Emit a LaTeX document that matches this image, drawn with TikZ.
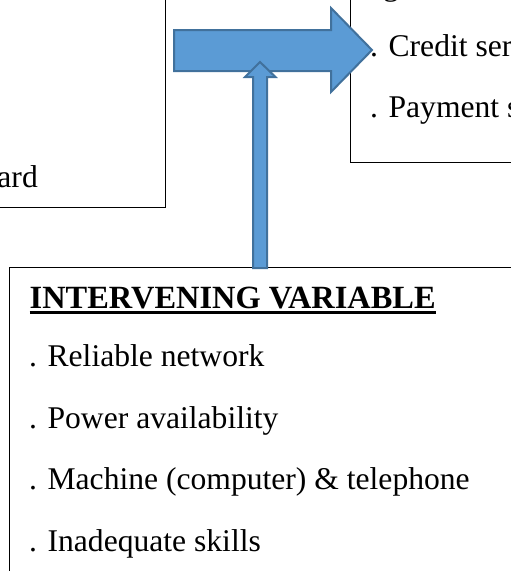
\documentclass[tikz,border=0pt]{standalone}
\usepackage{fontspec}
\setmainfont{Liberation Serif}
\definecolor{arrowfill}{HTML}{5B9BD5}
\definecolor{arrowline}{HTML}{41719C}
\begin{document}
\begin{tikzpicture}[x=1pt,y=-1pt,
  box/.style={draw=black,line width=0.9pt},
  txt/.style={anchor=base west,inner sep=0pt,font=\fontsize{31.6}{38}\selectfont},
  blockarrow/.style={fill=arrowfill,draw=arrowline,line width=2pt,line join=miter}]
\useasboundingbox (0,0) rectangle (511,571);
\begin{scope}
\clip (0,0) rectangle (511,571);
% boxes
\draw[box] (-20,-20) rectangle (165,207);
\draw[box] (350,-20) rectangle (540,162);
\draw[box] (9,267) rectangle (540,600);
% left box text
\node[txt,anchor=base east] (lefttxt) at (38,187) {ard};
% right box text
\node[txt] (rtop) at (383,-4.5) {g};
\node[txt] (credit) at (370,56.5) {. Credit ser};
\node[txt] (payment) at (370,117.5) {. Payment s};
% bottom box text
\node[txt,font=\fontsize{32.4}{38}\selectfont\bfseries] (head) at (29.5,308) {INTERVENING VARIABLE};
\draw[line width=3pt] ([yshift=-4pt]head.base west) -- ([yshift=-4pt]head.base east);
\node[txt] (i1) at (29,366.7) {. Reliable network};
\node[txt] (i2) at (29,428.2) {. Power availability};
\node[txt] (i3) at (29,489.7) {. Machine (computer) \& telephone};
\node[txt] (i4) at (29,551.2) {. Inadequate skills};
% horizontal block arrow
\draw[blockarrow] (174,30) -- (331,30) -- (331,8) -- (372,50) -- (331,92) -- (331,71) -- (174,71) -- cycle;
% vertical block arrow
\draw[blockarrow] (253,268) -- (253,77) -- (245,77) -- (260,62) -- (275.5,77) -- (267,77) -- (267,268) -- cycle;
\end{scope}
\end{tikzpicture}
\end{document}
